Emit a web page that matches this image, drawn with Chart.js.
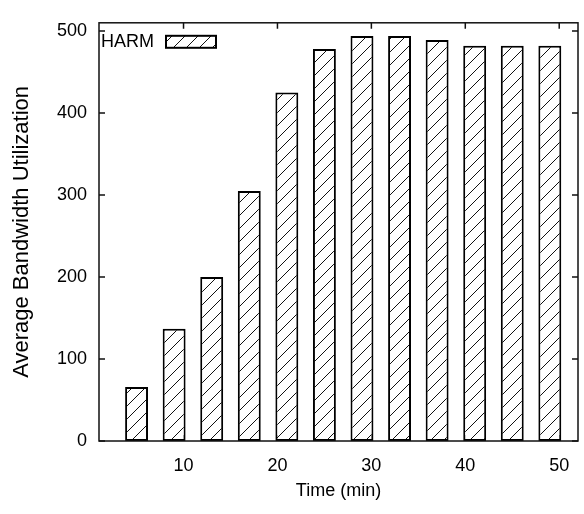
<!DOCTYPE html>
<html>
<head>
<meta charset="utf-8">
<script src="https://cdn.jsdelivr.net/npm/chart.js@4/dist/chart.umd.min.js"></script>
<style>
  body { margin: 0; background: #fff; }
  #c { display: block; }
</style>
</head>
<body>
<canvas id="c" width="584" height="514"></canvas>
<script>
const seriesName = "HARM"
const timeMin = [5, 9, 13, 17, 21, 25, 29, 33, 37, 41, 45, 49]
const bandwidth = [66, 137, 200, 305, 425, 478, 494, 494, 489, 482, 482, 482]
const xTicks = [10, 20, 30, 40, 50]
const yTicks = [0, 100, 200, 300, 400, 500]

// diagonal hatch like gnuplot's fill pattern
function makeHatch() {
	const s = 13
	const c = document.createElement("canvas")
	c.width = s
	c.height = s
	const g = c.getContext("2d")
	g.fillStyle = "#fff"
	g.fillRect(0, 0, s, s)
	g.strokeStyle = "#111"
	g.lineWidth = 1
	g.beginPath()
	g.moveTo(-2, s + 2)
	g.lineTo(s + 2, -2)
	g.moveTo(-2, 2)
	g.lineTo(2, -2)
	g.moveTo(s - 2, s + 2)
	g.lineTo(s + 2, s - 2)
	g.stroke()
	return g.createPattern(c, "repeat")
}

const hatch = makeHatch()
const font = "'Liberation Sans', Arial, sans-serif"

// inward ticks on all four sides + the frame
const frame = {
	id: "frame",
	beforeDatasetsDraw(chart) {
		const { ctx, chartArea: a, scales } = chart
		ctx.save()
		ctx.strokeStyle = "#111"
		ctx.lineWidth = 1.5
		ctx.beginPath()
		yTicks.forEach(v => {
			const y = scales.y.getPixelForValue(v)
			ctx.moveTo(a.left, y)
			ctx.lineTo(a.left + 6, y)
			ctx.moveTo(a.right, y)
			ctx.lineTo(a.right - 6, y)
		})
		xTicks.forEach(v => {
			const x = scales.x.getPixelForValue(v)
			ctx.moveTo(x, a.top)
			ctx.lineTo(x, a.top + 6)
			ctx.moveTo(x, a.bottom)
			ctx.lineTo(x, a.bottom - 6)
		})
		ctx.stroke()
		ctx.restore()
	},
	afterDraw(chart) {
		const { ctx, chartArea: a } = chart
		ctx.save()
		ctx.strokeStyle = "#111"
		ctx.lineWidth = 1.5
		ctx.strokeRect(a.left, a.top, a.right - a.left, a.bottom - a.top)

		// key in the top-left corner
		const ds = chart.data.datasets[0]
		ctx.fillStyle = "#000"
		ctx.font = "18px " + font
		ctx.textBaseline = "middle"
		ctx.textAlign = "left"
		ctx.fillText(ds.label, a.left + 2, a.top + 19)
		ctx.fillStyle = hatch
		ctx.fillRect(a.left + 67, a.top + 13, 50, 12)
		ctx.lineWidth = 2
		ctx.strokeStyle = "#000"
		ctx.strokeRect(a.left + 67, a.top + 13, 50, 12)
		ctx.restore()
	}
}

new Chart(document.getElementById("c"), {
	type: "bar",
	data: {
		datasets: [{
			label: seriesName,
			data: timeMin.map((t, i) => ({ x: t, y: bandwidth[i] })),
			backgroundColor: hatch,
			borderColor: "#000",
			borderWidth: 2,
			borderSkipped: false,
			barPercentage: 0.61,
			categoryPercentage: 1
		}]
	},
	options: {
		responsive: false,
		animation: false,
		layout: { padding: { left: 0, right: 6, top: 9, bottom: 6 } },
		plugins: { legend: { display: false }, tooltip: { enabled: false } },
		scales: {
			x: {
				type: "linear",
				offset: false,
				min: 1,
				max: 52,
				afterBuildTicks: s => { s.ticks = xTicks.map(v => ({ value: v })) },
				afterFit: s => { s.height = 67 },
				grid: { display: false, drawTicks: false },
				border: { display: false },
				ticks: { color: "#000", font: { family: font, size: 18 }, padding: 14, maxRotation: 0 },
				title: {
					display: true,
					text: "Time (min)",
					color: "#000",
					font: { family: font, size: 18 },
					padding: { top: 0, bottom: 6 }
				}
			},
			y: {
				min: 0,
				max: 510,
				afterBuildTicks: s => { s.ticks = yTicks.map(v => ({ value: v })) },
				afterFit: s => { s.width = 99 },
				grid: { display: false, drawTicks: false },
				border: { display: false },
				ticks: { color: "#000", font: { family: font, size: 18 }, padding: 12 },
				title: {
					display: true,
					text: "Average Bandwidth Utilization",
					color: "#000",
					font: { family: font, size: 22 },
					padding: { top: 9, bottom: 0 }
				}
			}
		}
	},
	plugins: [frame]
})
</script>
</body>
</html>
